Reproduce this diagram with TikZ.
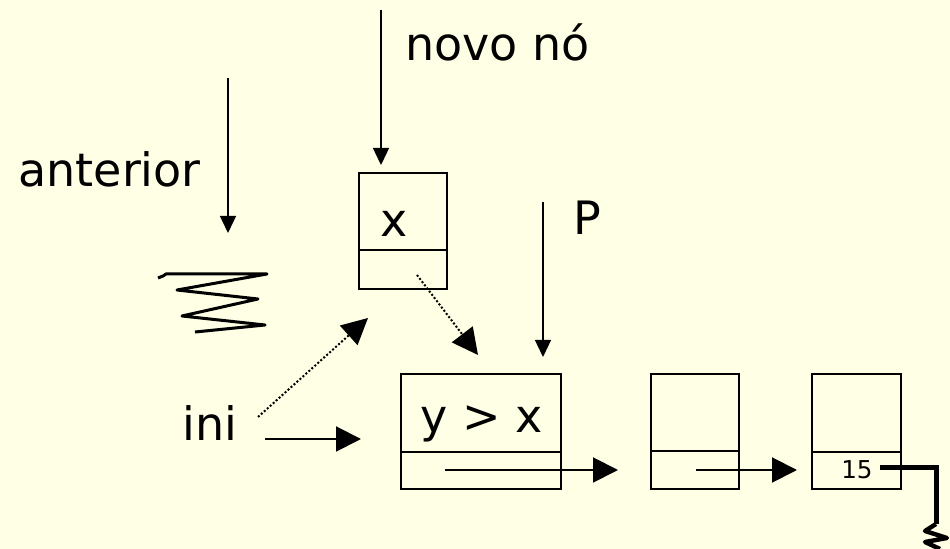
\documentclass[tikz,border=0pt]{standalone}
\usepackage{fontspec}
\setmainfont{DejaVu Sans}
\usetikzlibrary{arrows.meta}
\definecolor{paper}{RGB}{255,255,230}
\begin{document}
\begin{tikzpicture}[x=0.5pt,y=-0.5pt,
  cell/.style={draw, line width=1pt, inner sep=0pt, minimum height=57.5pt},
  tag/.style={anchor=base west, inner sep=0pt, font=\fontsize{23}{27}\selectfont},
  ptr/.style={line width=0.7pt, -{Triangle[length=8.5pt,width=8pt]}},
  link/.style={line width=1pt, -{Triangle[length=12.5pt,width=12.5pt]}},
  hint/.style={line width=1pt, dash pattern=on 1pt off 1pt, -{Triangle[length=13pt,width=13pt]}},
  null/.style={line width=2.5pt, line join=miter}]
  \fill[paper] (0,0) rectangle (950,549);
  \useasboundingbox (0,0) rectangle (950,549);

  % list cells
  \node[cell, minimum width=44pt, minimum height=58pt] (nx) at (403,231) {};
  \node[cell, minimum width=80pt] (ny) at (481,431.5) {};
  \node[cell, minimum width=44pt] (n2) at (695,431.5) {};
  \node[cell, minimum width=44.5pt] (n3) at (856.5,431.5) {};
  \draw[line width=1pt] (nx.west |- 0,250) -- (nx.east |- 0,250);
  \draw[line width=1pt] (ny.west |- 0,452) -- (ny.east |- 0,452);
  \draw[line width=1pt] (n2.west |- 0,451) -- (n2.east |- 0,451);
  \draw[line width=1pt] (n3.west |- 0,452) -- (n3.east |- 0,452);

  % contents
  \node[tag] (tx) at (380,237) {x};
  \node[tag] (ty) at (420,433) {y > x};
  \node[font=\fontsize{12.3}{14}\selectfont, inner sep=0pt] (t15) at (857,470) {15};

  % labels
  \node[tag] (lnovo) at (405,61) {novo nó};
  \node[tag] (lant) at (18,187) {anterior};
  \node[tag] (lp) at (573,235) {P};
  \node[tag] (lini) at (182,441) {ini};

  % pointer ends
  \coordinate (novo0) at (381,10);
  \coordinate (novo1) at (381,165);
  \coordinate (ant0) at (228,78);
  \coordinate (ant1) at (228,233);
  \coordinate (p0) at (543,202);
  \coordinate (p1) at (543,357);
  \coordinate (ini0) at (265,439);
  \coordinate (ini1) at (361,439);
  \coordinate (inid0) at (258,417);
  \coordinate (inid1) at (368,318);
  \coordinate (xd0) at (417,275);
  \coordinate (xd1) at (478,355);
  \coordinate (y0) at (445,470);
  \coordinate (y1) at (618,470);
  \coordinate (b0) at (696,470);
  \coordinate (b1) at (797,470);
  \coordinate (g0) at (880,468);
  \coordinate (g1) at (936,468);
  \coordinate (g2) at (936,524);

  \draw[ptr] (novo0) -- (novo1);
  \draw[ptr] (ant0) -- (ant1);
  \draw[ptr] (p0) -- (p1);
  \draw[link] (ini0) -- (ini1);
  \draw[hint] (inid0) -- (inid1);
  \draw[hint] (xd0) -- (xd1);
  \draw[link] (y0) -- (y1);
  \draw[link] (b0) -- (b1);

  % null terminator
  \draw[null] (g0) -- (g1) -- (g2);
  \draw[line width=2.2pt, line join=round] (g2) -- (925,531) -- (947,538) -- (925,542) -- (940,549);

  % scribbled-out pointer
  \draw[line width=1.5pt, line join=round]
    (158,278) -- (163,276) -- (166,274) -- (267,274) -- (177,290) -- (258,299)
    -- (182,316) -- (265,325) -- (195,332);
\end{tikzpicture}
\end{document}
